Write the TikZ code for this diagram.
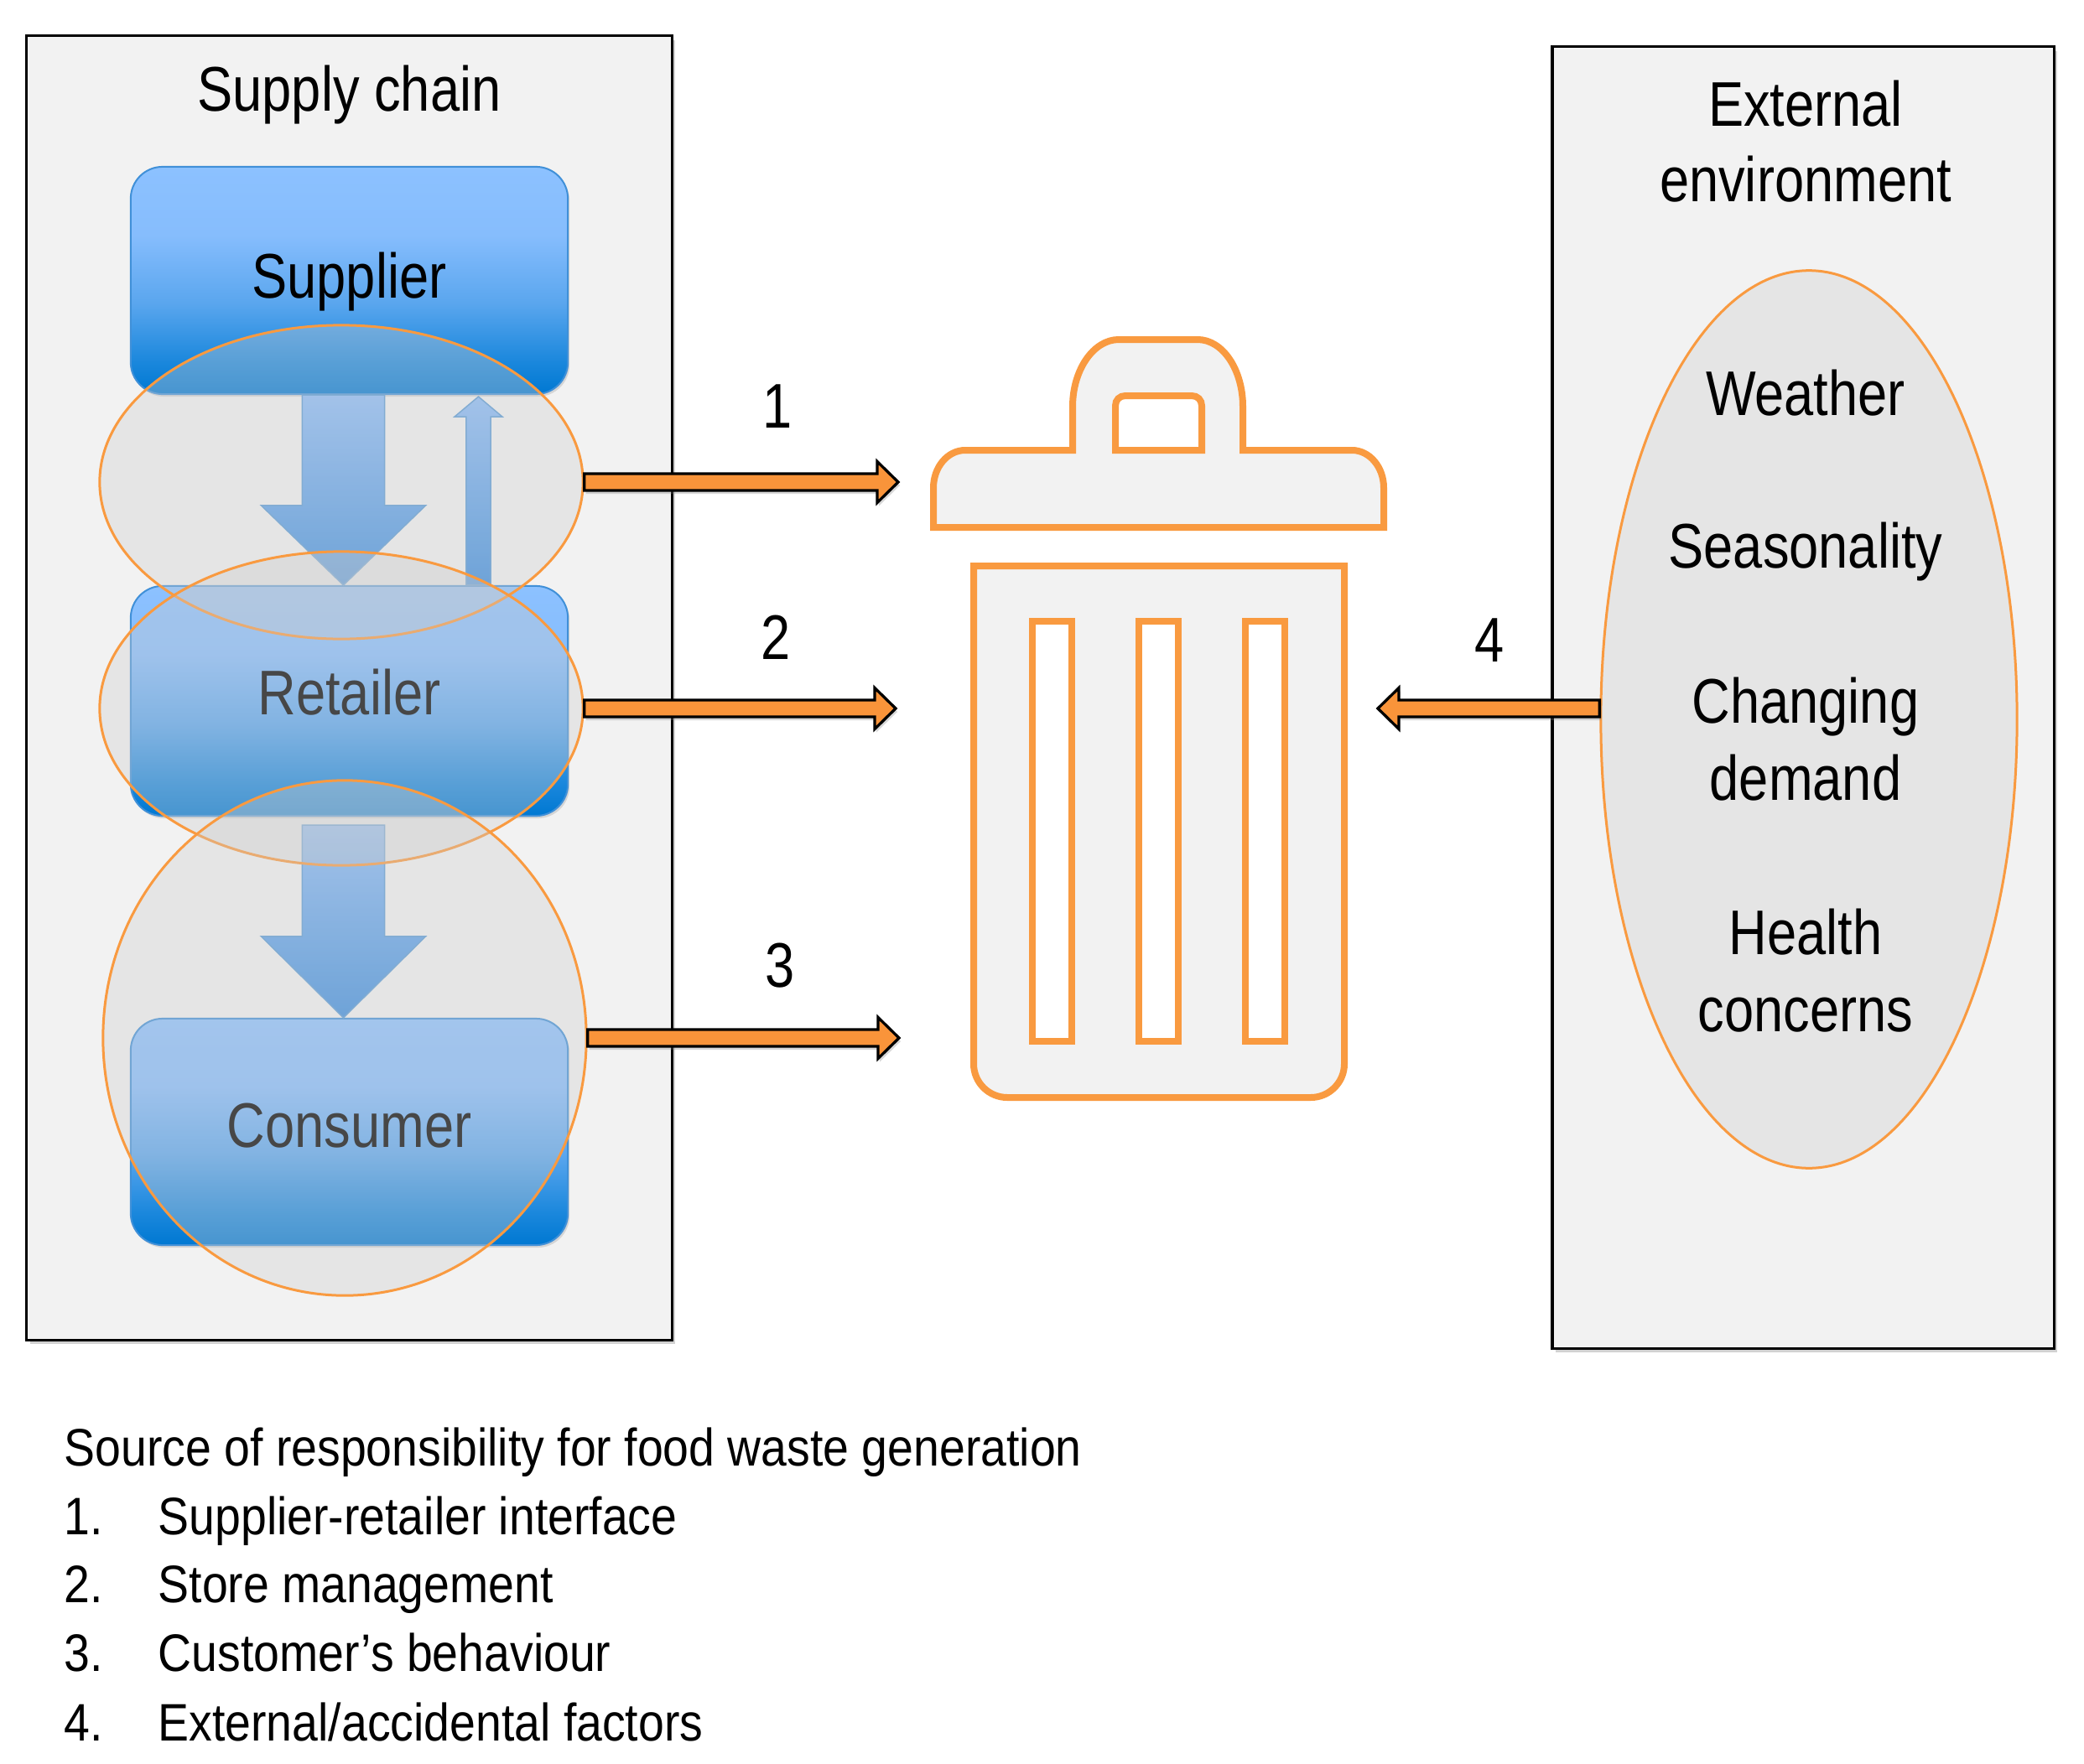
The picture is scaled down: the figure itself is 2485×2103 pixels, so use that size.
\documentclass[tikz,border=0pt]{standalone}
\usepackage{fontspec}
\setmainfont{Liberation Sans}[FakeStretch=0.84]
\newfontfamily\legfont{Liberation Sans}[FakeStretch=0.88]
\usetikzlibrary{shapes.geometric,calc,shadows}
\definecolor{panelbg}{HTML}{F2F2F2}
\definecolor{orng}{HTML}{F99A40}
\definecolor{orfill}{HTML}{F9943A}
\definecolor{ellfill}{HTML}{CDCDCD}
\definecolor{bxdark}{HTML}{0078D2}
\definecolor{bxmidA}{HTML}{1A87DC}
\definecolor{bxmidB}{HTML}{5AA6EE}
\definecolor{bxlight}{HTML}{86BDFD}
\definecolor{bxtop}{HTML}{8CC1FF}
\definecolor{bxedge}{HTML}{4090D8}
\definecolor{arrtop}{HTML}{8CBDF9}
\definecolor{arrbot}{HTML}{3C8DDE}
\definecolor{arredge}{HTML}{5B9BD5}
\pgfdeclareverticalshading{boxshade}{100bp}{color(0bp)=(bxdark); color(25bp)=(bxdark); color(32bp)=(bxmidA); color(45bp)=(bxmidB); color(60bp)=(bxlight); color(75bp)=(bxtop); color(100bp)=(bxtop)}
\tikzset{
  panel/.style={rectangle, draw=black, line width=0.033cm, fill=panelbg, inner sep=0,
    drop shadow={shadow xshift=0.04cm, shadow yshift=-0.05cm, opacity=0.35}},
  bluebox/.style={rectangle, rounded corners=0.38cm, draw=bxedge, line width=0.02cm,
    shade, shading=boxshade, minimum width=5.21cm, inner sep=0,
    drop shadow={shadow xshift=0.02cm, shadow yshift=-0.03cm, opacity=0.25}},
  barrow/.style={draw=arredge, line width=0.015cm, top color=arrtop, bottom color=arrbot},
  ellnode/.style={ellipse, draw=orng, line width=0.03cm, fill=ellfill, fill opacity=0.35,
    draw opacity=1, inner sep=0},
  oarrow/.style={draw=black, line width=0.033cm, fill=orfill, line join=miter,
    drop shadow={shadow xshift=0.02cm, shadow yshift=-0.04cm, opacity=0.3}},
  trashpart/.style={draw=orng, line width=0.08cm, fill=panelbg, line join=miter},
  slotpart/.style={draw=orng, line width=0.08cm, fill=white},
  lbl/.style={font=\fontsize{21.4}{26.2}\selectfont, inner sep=0, anchor=base},
  leg/.style={font=\legfont\fontsize{17.9}{23}\selectfont, inner sep=0, anchor=base west}
}
\begin{document}
\begin{tikzpicture}[x=0.01cm, y=-0.01cm]
\useasboundingbox[fill=white] (0,0) rectangle (2485,2103);

% panels
\node[panel, minimum width=7.69cm, minimum height=15.55cm] (sc) at (416.5,820.5) {};
\node[panel, minimum width=5.98cm, minimum height=15.52cm] (ext) at (2150,832) {};
\node[lbl] (sctitle) at (416.5,133) {Supply chain};
\node[lbl] (exttitleA) at (2153,151) {External};
\node[lbl] (exttitleB) at (2153,241) {environment};

% supply chain boxes
\node[bluebox, minimum height=2.71cm] (sup) at (416.5,334.5) {};
\node[bluebox, minimum height=2.74cm] (ret) at (416.5,836) {};
\node[bluebox, minimum height=2.70cm] (con) at (416.5,1350) {};
\node[lbl] (supl) at ($(sup.center)+(0,20.5)$) {Supplier};
\node[lbl] (retl) at ($(ret.center)+(0,16)$) {Retailer};
\node[lbl] (conl) at ($(con.center)+(0,18)$) {Consumer};

% blue block arrows
\draw[barrow] let \p1=($(sup.south)+(-7,0)$), \p2=($(ret.north)+(-7,0)$) in
  (\x1-0.49cm,\y1) -- (\x1+0.49cm,\y1) -- (\x1+0.49cm,\y2+0.95cm) -- (\x1+0.98cm,\y2+0.95cm)
  -- (\x2,\y2) -- (\x1-0.98cm,\y2+0.95cm) -- (\x1-0.49cm,\y2+0.95cm) -- cycle;
\draw[barrow] let \p1=($(ret.south)+(-7,10)$), \p2=($(con.north)+(-7,0)$) in
  (\x1-0.49cm,\y1) -- (\x1+0.49cm,\y1) -- (\x1+0.49cm,\y2+0.97cm) -- (\x1+0.98cm,\y2+0.97cm)
  -- (\x2,\y2) -- (\x1-0.98cm,\y2+0.97cm) -- (\x1-0.49cm,\y2+0.97cm) -- cycle;
\draw[barrow] let \p1=($(ret.north)+(154,0)$), \p2=($(sup.south)+(154,2)$) in
  (\x1-0.145cm,\y1) -- (\x1-0.145cm,\y2-0.24cm) -- (\x1-0.285cm,\y2-0.24cm) -- (\x2,\y2)
  -- (\x1+0.285cm,\y2-0.24cm) -- (\x1+0.145cm,\y2-0.24cm) -- (\x1+0.145cm,\y1) -- cycle;

% orange ellipses
\node[ellnode, minimum width=5.76cm, minimum height=3.74cm] (e1) at (407,575) {};
\node[ellnode, minimum width=5.76cm, minimum height=3.74cm] (e2) at (407,845) {};
\node[ellnode, minimum width=5.76cm, minimum height=6.14cm] (e3) at (411,1238) {};
\node[ellnode, minimum width=4.96cm, minimum height=10.70cm] (e4) at (2157,858) {};

% external factors
\node[lbl] (wea) at (2153,495) {Weather};
\node[lbl] (sea) at (2153,677) {Seasonality};
\node[lbl] (chA) at (2153,862) {Changing};
\node[lbl] (chB) at (2153,954) {demand};
\node[lbl] (heA) at (2153,1138) {Health};
\node[lbl] (heB) at (2153,1230) {concerns};

% trash can
\draw[trashpart] (1113,629) -- (1113,582) .. controls (1113,557) and (1130,537) .. (1151,537)
  -- (1279,537) -- (1279,485) .. controls (1279,441) and (1304,405) .. (1334,405)
  -- (1428,405) .. controls (1458,405) and (1482,441) .. (1482,485)
  -- (1482,537) -- (1612,537) .. controls (1633,537) and (1650,557) .. (1650,582)
  -- (1650,629) -- cycle;
\draw[slotpart] (1330,537) -- (1330,484) .. controls (1330,477) and (1335,472) .. (1342,472)
  -- (1421,472) .. controls (1428,472) and (1433,477) .. (1433,484) -- (1433,537) -- cycle;
\draw[trashpart] (1161,675) -- (1603,675) -- (1603,1269) .. controls (1603,1291) and (1585,1309) .. (1563,1309)
  -- (1201,1309) .. controls (1179,1309) and (1161,1291) .. (1161,1269) -- cycle;
\draw[slotpart] (1231,741) rectangle (1278,1242);
\draw[slotpart] (1358,741) rectangle (1405,1242);
\draw[slotpart] (1485,741) rectangle (1532,1242);

% arrow end points
\coordinate (t1) at (1071,575);
\coordinate (t2) at (1068,845);
\coordinate (t3) at (1072,1238);
\coordinate (t4) at (1643,845);
\coordinate (s4) at ($(e4.west)+(0,-13)$);

% orange block arrows
\draw[oarrow] let \p1=(e1.east), \p2=(t1) in
  (\x1,\y1+0.1cm) -- (\x2-0.25cm,\y1+0.1cm) -- (\x2-0.25cm,\y1+0.245cm) -- (\x2,\y1)
  -- (\x2-0.25cm,\y1-0.245cm) -- (\x2-0.25cm,\y1-0.1cm) -- (\x1,\y1-0.1cm) -- cycle;
\draw[oarrow] let \p1=(e2.east), \p2=(t2) in
  (\x1,\y1+0.1cm) -- (\x2-0.25cm,\y1+0.1cm) -- (\x2-0.25cm,\y1+0.245cm) -- (\x2,\y1)
  -- (\x2-0.25cm,\y1-0.245cm) -- (\x2-0.25cm,\y1-0.1cm) -- (\x1,\y1-0.1cm) -- cycle;
\draw[oarrow] let \p1=(e3.east), \p2=(t3) in
  (\x1,\y1+0.1cm) -- (\x2-0.25cm,\y1+0.1cm) -- (\x2-0.25cm,\y1+0.245cm) -- (\x2,\y1)
  -- (\x2-0.25cm,\y1-0.245cm) -- (\x2-0.25cm,\y1-0.1cm) -- (\x1,\y1-0.1cm) -- cycle;
\draw[oarrow] let \p1=(s4), \p2=(t4) in
  (\x1,\y1+0.1cm) -- (\x2+0.25cm,\y1+0.1cm) -- (\x2+0.25cm,\y1+0.245cm) -- (\x2,\y1)
  -- (\x2+0.25cm,\y1-0.245cm) -- (\x2+0.25cm,\y1-0.1cm) -- (\x1,\y1-0.1cm) -- cycle;

% arrow labels
\node[lbl] (l1) at (927,510) {1};
\node[lbl] (l2) at (925,786) {2};
\node[lbl] (l3) at (930,1177) {3};
\node[lbl] (l4) at (1776,789) {4};

% legend
\node[leg] (lg0) at (76,1748) {Source of responsibility for food waste generation};
\node[leg] (n1) at (76,1830) {1.};
\node[leg] (i1) at (188,1830) {Supplier-retailer interface};
\node[leg] (n2) at (76,1911) {2.};
\node[leg] (i2) at (188,1911) {Store management};
\node[leg] (n3) at (76,1993) {3.};
\node[leg] (i3) at (188,1993) {Customer’s behaviour};
\node[leg] (n4) at (76,2076) {4.};
\node[leg] (i4) at (188,2076) {External/accidental factors};
\end{tikzpicture}
\end{document}
